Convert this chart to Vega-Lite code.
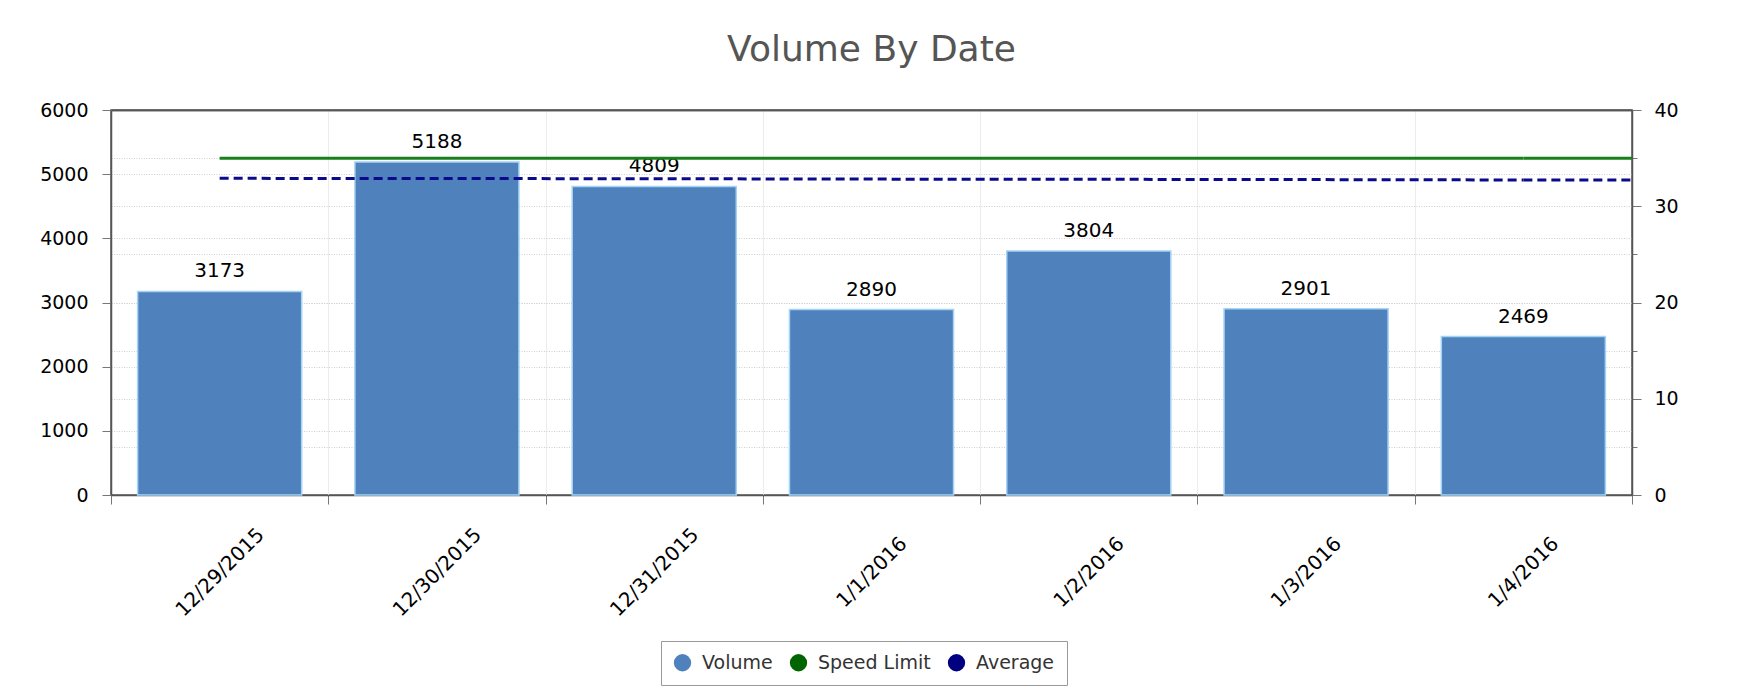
{
  "$schema": "https://vega.github.io/schema/vega-lite/v6.json",
  "autosize": {"type": "none"},
  "padding": {"left": 111, "top": 110, "right": 107, "bottom": 196},
  "width": 1521,
  "height": 385,
  "background": "white",
  "title": {
    "text": "Volume By Date",
    "font": "DejaVu Sans",
    "fontSize": 36,
    "fontWeight": "normal",
    "color": "#555555",
    "anchor": "middle",
    "frame": "group",
    "baseline": "alphabetic",
    "offset": 4
  },
  "data": {
    "values": [
      {"date": "12/29/2015", "volume": 3173, "speed": 35, "avg": 32.9},
      {"date": "12/30/2015", "volume": 5188, "speed": 35, "avg": 32.88},
      {"date": "12/31/2015", "volume": 4809, "speed": 35, "avg": 32.86},
      {"date": "1/1/2016", "volume": 2890, "speed": 35, "avg": 32.82},
      {"date": "1/2/2016", "volume": 3804, "speed": 35, "avg": 32.8},
      {"date": "1/3/2016", "volume": 2901, "speed": 35, "avg": 32.77},
      {"date": "1/4/2016", "volume": 2469, "speed": 35, "avg": 32.73}
    ]
  },
  "layer": [
    {
      "layer": [
        {
          "mark": {"type": "bar", "stroke": "#a3d3f5", "strokeWidth": 1.5, "width": {"band": 0.755}},
          "encoding": {
            "x": {
              "field": "date", "type": "nominal", "sort": null,
              "scale": {"paddingInner": 0, "paddingOuter": 0},
              "axis": {
                "title": null, "labelAngle": -45, "labelAlign": "center", "labelBaseline": "middle",
                "labelPadding": 68, "tickBand": "extent", "tickSize": 9, "grid": true,
                "gridColor": "#ececec", "domainColor": "#555555", "domainWidth": 1.5,
                "tickColor": "#777777", "labelFontSize": 20, "labelColor": "#000000",
                "labelFont": "DejaVu Sans", "labelOverlap": false, "labelBound": false, "labelFlush": false
              }
            },
            "y": {
              "field": "volume", "type": "quantitative",
              "scale": {"domain": [0, 6000], "nice": false},
              "axis": {
                "orient": "left", "title": null, "format": "d",
                "values": [0,250,500,750,1000,1250,1500,1750,2000,2250,2500,2750,3000,3250,3500,3750,4000,4250,4500,4750,5000,5250,5500,5750,6000],
                "labelExpr": "datum.value % 1000 === 0 ? datum.label : ''",
                "tickSize": {"condition": {"test": "datum.value % 1000 === 0", "value": 9}, "value": 5},
                "grid": true,
                "gridDash": {"condition": {"test": "datum.value === 6000", "value": []}, "value": [1, 1.5]},
                "gridColor": {"condition": {"test": "datum.value === 6000", "value": "#555555"}, "value": "#cfcfcf"},
                "gridWidth": {"condition": {"test": "datum.value === 6000", "value": 1.5}, "value": 1},
                "domainColor": "#555555", "domainWidth": 1.5, "tickColor": "#777777",
                "labelFontSize": 19, "labelColor": "#000000", "labelFont": "DejaVu Sans",
                "labelPadding": 14, "labelOverlap": false, "labelFlush": false, "labelBound": false
              }
            },
            "color": {
              "datum": "Volume", "type": "nominal",
              "scale": {"domain": ["Volume", "Speed Limit", "Average"], "range": ["#4f81bd", "#006400", "#000080"]},
              "legend": {
                "title": null, "orient": "none", "legendX": 550, "legendY": 531,
                "direction": "horizontal", "columns": 3, "symbolType": "circle", "symbolSize": 300,
                "symbolStrokeWidth": 0, "labelFontSize": 19, "labelColor": "#333333", "labelFont": "DejaVu Sans",
                "labelOffset": 10, "columnPadding": 16, "padding": 12,
                "strokeColor": "#999999", "fillColor": "white"
              }
            }
          }
        },
        {
          "mark": {"type": "text", "baseline": "alphabetic", "dy": -14, "fontSize": 20, "color": "#000000", "font": "DejaVu Sans"},
          "encoding": {
            "x": {"field": "date", "type": "nominal", "sort": null},
            "y": {"field": "volume", "type": "quantitative"},
            "text": {"field": "volume", "type": "quantitative", "format": "d"}
          }
        }
      ]
    },
    {
      "layer": [
        {
          "mark": {"type": "line", "color": "#1a7f1a", "strokeWidth": 3},
          "encoding": {
            "x": {"field": "date", "type": "nominal", "sort": null},
            "y": {
              "field": "speed", "type": "quantitative",
              "scale": {"domain": [0, 40], "nice": false},
              "axis": {
                "orient": "right", "title": null, "format": "d",
                "values": [0,2.5,5,7.5,10,12.5,15,17.5,20,22.5,25,27.5,30,32.5,35,37.5,40],
                "labelExpr": "datum.value % 10 === 0 ? datum.label : ''",
                "tickSize": {"condition": {"test": "datum.value % 10 === 0", "value": 9}, "value": 5},
                "grid": true,
                "gridDash": {"condition": {"test": "datum.value === 40", "value": []}, "value": [1, 1.5]},
                "gridColor": {"condition": {"test": "datum.value === 40", "value": "#555555"}, "value": "#cfcfcf"},
                "gridWidth": {"condition": {"test": "datum.value === 40", "value": 1.5}, "value": 1},
                "domainColor": "#555555", "domainWidth": 1.5, "tickColor": "#777777",
                "labelFontSize": 19, "labelColor": "#000000", "labelFont": "DejaVu Sans",
                "labelPadding": 13, "labelOverlap": false, "labelFlush": false, "labelBound": false
              }
            }
          }
        },
        {
          "transform": [{"filter": "datum.date === '1/4/2016'"}],
          "mark": {"type": "rule", "color": "#1a7f1a", "strokeWidth": 3},
          "encoding": {
            "x": {"field": "date", "type": "nominal", "sort": null, "bandPosition": 0.5},
            "x2": {"value": "width"},
            "y": {"field": "speed", "type": "quantitative"}
          }
        },
        {
          "mark": {"type": "line", "color": "#0a0a8a", "strokeWidth": 3, "strokeDash": [9, 5]},
          "encoding": {
            "x": {"field": "date", "type": "nominal", "sort": null},
            "y": {"field": "avg", "type": "quantitative"}
          }
        },
        {
          "transform": [{"filter": "datum.date === '1/4/2016'"}],
          "mark": {"type": "rule", "color": "#0a0a8a", "strokeWidth": 3, "strokeDash": [9, 5]},
          "encoding": {
            "x": {"field": "date", "type": "nominal", "sort": null, "bandPosition": 0.5},
            "x2": {"value": "width"},
            "y": {"field": "avg", "type": "quantitative"}
          }
        }
      ]
    }
  ],
  "resolve": {"scale": {"y": "independent"}},
  "config": {
    "view": {"stroke": "#555555", "strokeWidth": 1.5}
  }
}
